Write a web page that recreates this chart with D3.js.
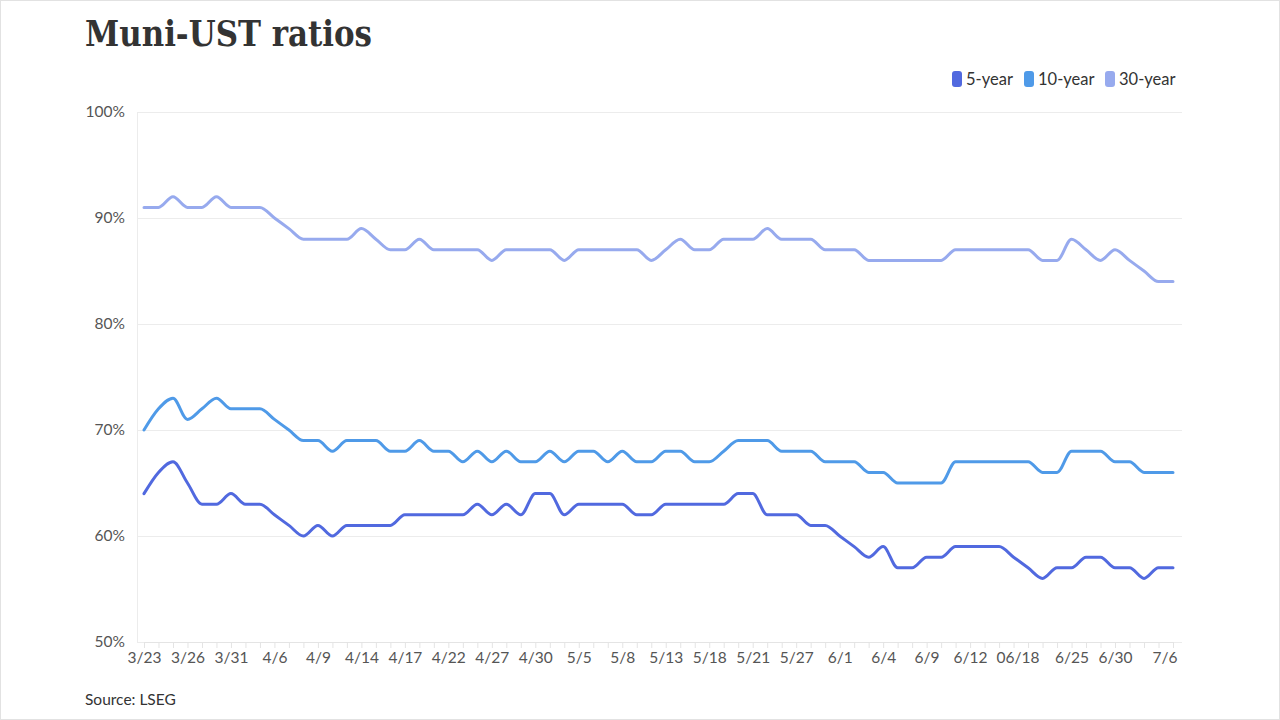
<!DOCTYPE html>
<html>
<head>
<meta charset="utf-8">
<script src="https://cdn.jsdelivr.net/npm/d3@7"></script>
<style>
  body { margin: 0; background: #fff; }
  svg { display: block; font-family: Lato, "Noto Sans", sans-serif; }
</style>
</head>
<body>
<div id="chart"></div>
<script>
// series values, one per trading day
var fiveYear = [64,66,67,65,63,63,64,63,63,62,61,60,61,60,61,61,61,61,62,62,62,62,62,63,62,63,62,64,64,62,
    63,63,63,63,62,62,63,63,63,63,63,64,64,62,62,62,61,61,60,59,58,59,57,57,58,58,59,59,59,59,
    58,57,56,57,57,58,58,57,57,56,57,57];
var tenYear = [70,72,73,71,72,73,72,72,72,71,70,69,69,68,69,69,69,68,68,69,68,68,67,68,67,68,67,67,68,67,
    68,68,67,68,67,67,68,68,67,67,68,69,69,69,68,68,68,67,67,67,66,66,65,65,65,65,67,67,67,67,
    67,67,66,66,68,68,68,67,67,66,66,66];
var thirtyYear = [91,91,92,91,91,92,91,91,91,90,89,88,88,88,88,89,88,87,87,88,87,87,87,87,86,87,87,87,87,86,
    87,87,87,87,87,86,87,88,87,87,88,88,88,89,88,88,88,87,87,87,86,86,86,86,86,86,87,87,87,87,
    87,87,86,86,88,87,86,87,86,85,84,84];

var seriesNames = ["5-year", "10-year", "30-year"];
var seriesColors = ["#5169df", "#4f9ae8", "#97aaee"];

// which observation each date label belongs to
var tickIdx = [0,3,6,9,12,15,18,21,24,27,30,33,36,39,42,45,48,51,54,57,60,64,67,71];
var tickLabels = ["3/23","3/26","3/31","4/6","4/9","4/14","4/17","4/22","4/27","4/30","5/5","5/8",
    "5/13","5/18","5/21","5/27","6/1","6/4","6/9","6/12","06/18","6/25","6/30","7/6"];

var yTicks = [50,60,70,80,90,100];

var width = 1280, height = 720;
var n = fiveYear.length;

var svg = d3.select("#chart").append("svg")
    .attr("width", width)
    .attr("height", height);

// frame
svg.append("rect")
    .attr("x", 0.5).attr("y", 0.5)
    .attr("width", width - 1).attr("height", height - 1)
    .attr("fill", "#fff")
    .attr("stroke", "#e2e2e2");

var x = d3.scaleLinear().domain([0, n - 1]).range([144, 1173]);
var y = d3.scaleLinear().domain([50, 100]).range([642, 112]);

// title
svg.append("text")
    .attr("x", 85).attr("y", 46)
    .attr("font-family", "'DejaVu Serif', serif")
    .attr("font-weight", "bold")
    .attr("font-size", 35)
    .attr("textLength", 287)
    .attr("lengthAdjust", "spacingAndGlyphs")
    .attr("fill", "#333")
    .text("Muni-UST ratios");

// legend
var legendX = [952, 1024, 1105];
var legend = svg.append("g").selectAll("g")
    .data(seriesNames)
    .enter().append("g")
    .attr("transform", function(d, i) { return "translate(" + legendX[i] + ",71)"; });

legend.append("rect")
    .attr("width", 10).attr("height", 16)
    .attr("rx", 3)
    .attr("fill", function(d, i) { return seriesColors[i]; });

legend.append("text")
    .attr("x", 14).attr("y", 14)
    .attr("font-size", 16.5)
    .attr("fill", "#333")
    .text(function(d) { return d; });

// y grid + labels
var yAxis = d3.axisLeft(y)
    .tickValues(yTicks)
    .tickSize(-(1182 - 137))
    .tickFormat(function(d) { return d + "%"; });

var gy = svg.append("g")
    .attr("transform", "translate(137,0)")
    .call(yAxis);
gy.select(".domain").attr("stroke", "#ececec");
gy.selectAll(".tick line").attr("stroke", "#ececec");
gy.selectAll(".tick text")
    .attr("x", -12)
    .attr("font-family", "Lato, sans-serif")
    .attr("font-size", 15.5)
    .attr("fill", "#555");

// x axis: a small tick at every observation, labels on some
var gx = svg.append("g")
    .attr("transform", "translate(0,642)")
    .call(d3.axisBottom(x)
        .tickValues(d3.range(n))
        .tickSize(6)
        .tickFormat(""));
gx.select(".domain").attr("stroke", "#e4e4e4");
gx.selectAll(".tick line").attr("stroke", "#e4e4e4");

var gxl = svg.append("g")
    .attr("transform", "translate(0,642)")
    .call(d3.axisBottom(x)
        .tickValues(tickIdx)
        .tickSize(0)
        .tickPadding(10)
        .tickFormat(function(d, i) { return tickLabels[i]; }));
gxl.select(".domain").remove();
gxl.selectAll(".tick text")
    .attr("font-family", "Lato, sans-serif")
    .attr("font-size", 15.5)
    .attr("fill", "#555");
gxl.selectAll(".tick text").filter(function(d) { return d === 60; })
    .attr("dx", 4);
// keep the last label inside the plot
gxl.selectAll(".tick text").filter(function(d) { return d === n - 1; })
    .attr("text-anchor", "end").attr("dx", 4);

// lines
var line = d3.line()
    .x(function(d, i) { return x(i); })
    .y(function(d) { return y(d); })
    .curve(d3.curveMonotoneX);

var allSeries = [thirtyYear, tenYear, fiveYear];
var allColors = [seriesColors[2], seriesColors[1], seriesColors[0]];

svg.append("g").selectAll("path")
    .data(allSeries)
    .enter().append("path")
    .attr("d", line)
    .attr("fill", "none")
    .attr("stroke", function(d, i) { return allColors[i]; })
    .attr("stroke-width", 3)
    .attr("stroke-linejoin", "round")
    .attr("stroke-linecap", "round");

// source
svg.append("text")
    .attr("x", 85).attr("y", 705)
    .attr("font-size", 15.5)
    .attr("fill", "#333")
    .text("Source: LSEG");
</script>
</body>
</html>
